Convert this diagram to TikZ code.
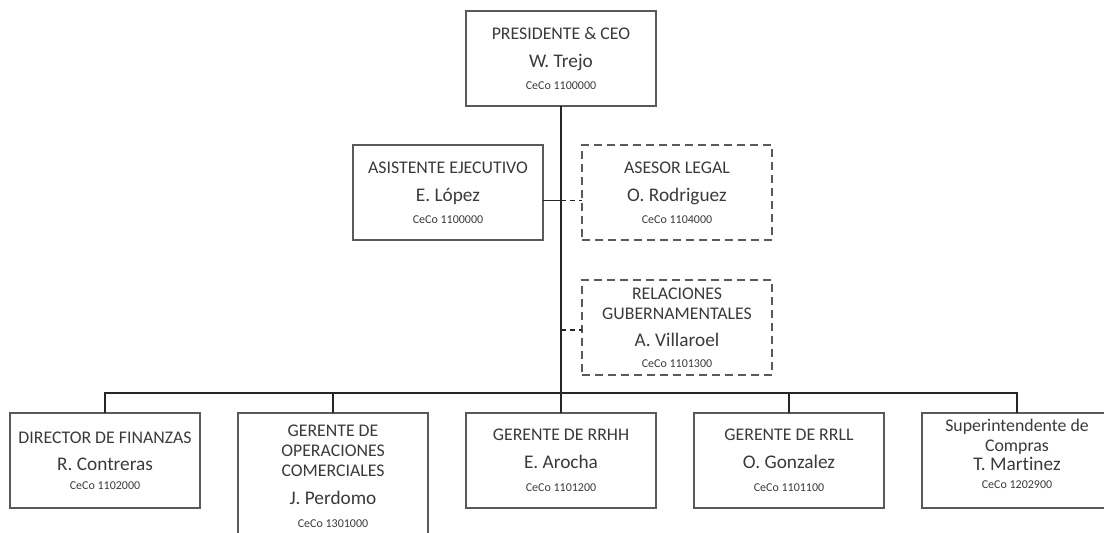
\documentclass[tikz,border=0pt]{standalone}
\usepackage{fontspec}
\setmainfont{Carlito}[Ligatures={NoCommon}]
\usetikzlibrary{positioning}
\definecolor{boxgray}{HTML}{5A5A5A}
\definecolor{txtgray}{HTML}{3A3A3A}
\definecolor{lingray}{HTML}{262626}
\newcommand\nombre[1]{{\fontsize{19.3}{20}\selectfont #1}}
\newcommand\ceco[1]{{\fontsize{12}{14}\selectfont CeCo #1}}

\begin{document}
\begin{tikzpicture}[x=1pt, y=-1pt, node distance=38pt,
  cargo/.style={draw=boxgray, line width=1.3pt, minimum width=190pt,
    minimum height=95pt, outer sep=0pt, inner ysep=4pt, align=center,
    text=txtgray, font=\fontsize{17.8}{20}\selectfont},
  apoyo/.style={cargo, dash pattern=on 8pt off 5pt},
  linea/.style={draw=lingray, line width=1.4pt}]
\useasboundingbox (0,0) rectangle (1104,533);
\clip (0,0) rectangle (1104,533);
\node[cargo, anchor=north] (pres) at (561,11)
  {PRESIDENTE \& CEO\\[8pt]\nombre{W. Trejo}\\[2pt]\ceco{1100000}};
\node[cargo, anchor=north] (asis) at (448,145)
  {ASISTENTE EJECUTIVO\\[8pt]\nombre{E. López}\\[2pt]\ceco{1100000}};
\node[apoyo, anchor=north] (legal) at (677,145)
  {ASESOR LEGAL\\[8pt]\nombre{O. Rodriguez}\\[2pt]\ceco{1104000}};
\node[apoyo, anchor=north] (rrgg) at (677,280)
  {RELACIONES\\GUBERNAMENTALES\\[7pt]\nombre{A. Villaroel}\\[1pt]\ceco{1101300}};
% fila de gerencias
\node[cargo, anchor=north west] (fin) at (10,413)
  {DIRECTOR DE FINANZAS\\[7pt]\nombre{R. Contreras}\\[-1pt]\ceco{1102000}};
\node[cargo, right=of fin.north east, anchor=north west, inner ysep=12pt] (ope)
  {GERENTE DE\\OPERACIONES\\COMERCIALES\\[8pt]\nombre{J. Perdomo}\\[3pt]\ceco{1301000}};
\node[cargo, right=of ope.north east, anchor=north west] (rrhh)
  {GERENTE DE RRHH\\[8pt]\nombre{E. Arocha}\\[3pt]\ceco{1101200}};
\node[cargo, right=of rrhh.north east, anchor=north west] (rrll)
  {GERENTE DE RRLL\\[8pt]\nombre{O. Gonzalez}\\[3pt]\ceco{1101100}};
\node[cargo, right=of rrll.north east, anchor=north west, text depth=14pt] (sup)
  {Superintendente de\\Compras\\[-1pt]\nombre{T. Martinez}\\[-2pt]\ceco{1202900}};
% conectores
\coordinate (bus) at ([yshift=20pt]rrhh.north);
\coordinate (j1) at ([yshift=-8pt]asis.east -| pres.south);
\coordinate (j2) at ([yshift=-2.5pt]rrgg.west -| pres.south);
\draw[linea] (pres.south) -- (rrhh.north);
\draw[linea] (fin.north) -- (fin.north |- bus) -- (sup.north |- bus) -- (sup.north);
\draw[linea] (ope.north) -- (ope.north |- bus);
\draw[linea] (rrll.north) -- (rrll.north |- bus);
\draw[linea] ([yshift=-8pt]asis.east) -- (j1);
\draw[linea, dash pattern=on 5pt off 4pt] (j1) -- ([yshift=-8pt]legal.west);
\draw[linea, dash pattern=on 5pt off 4pt] (j2) -- ([yshift=-2.5pt]rrgg.west);
\end{tikzpicture}
\end{document}
